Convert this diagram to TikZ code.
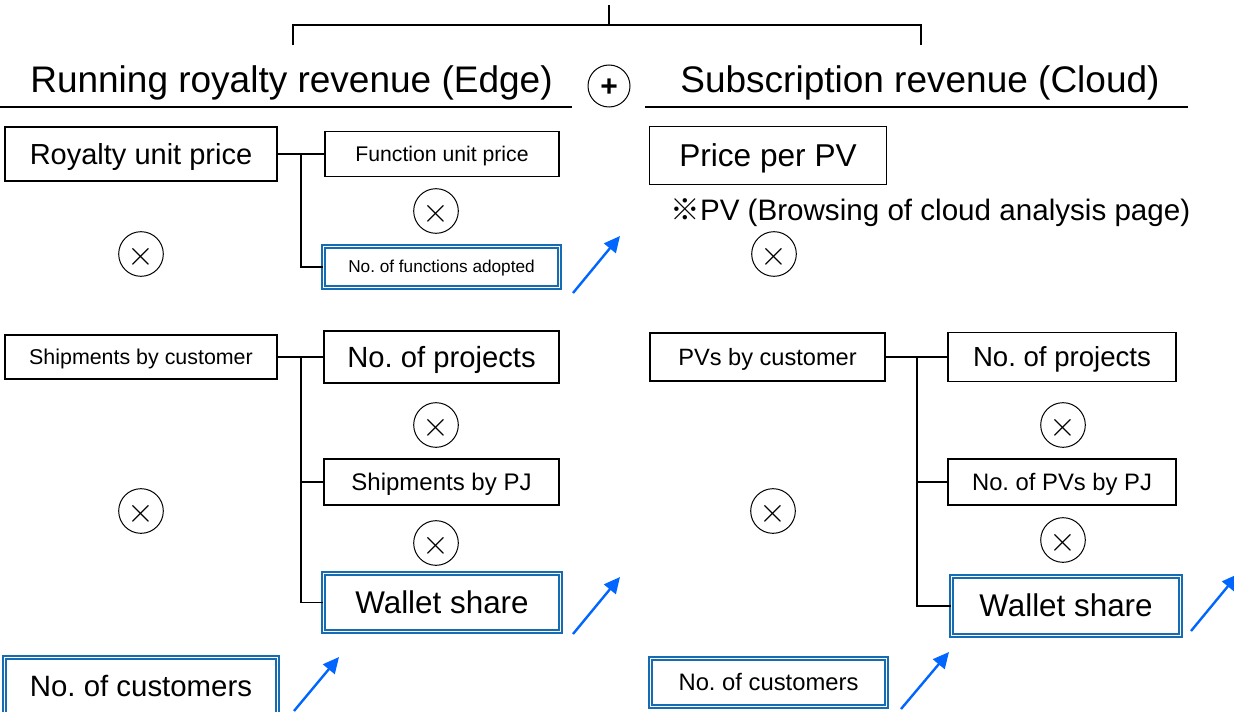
\documentclass[tikz,border=0pt]{standalone}
\usepackage{fontspec}
\setmainfont{Liberation Sans}
\newfontfamily\cjk{Noto Sans CJK JP}
\usetikzlibrary{arrows.meta}
\definecolor{framebl}{RGB}{22,108,178}
\definecolor{arrowbl}{RGB}{0,102,255}
\newcommand{\fsz}[1]{\fontsize{#1}{#1}\selectfont}
\newcommand{\ppstrut}{\rule[-0.212em]{0pt}{1.117em}}
\frenchspacing
\begin{document}
\begin{tikzpicture}[x=0.5pt,y=-0.5pt,
        every node/.append style={execute at begin node=\ppstrut},
        box/.style={draw, line width=0.7pt, inner sep=0pt},
        dblbox/.style={draw=framebl, double=white, line width=0.8pt, double distance=0.9pt, inner sep=0pt},
        opcirc/.style={draw, circle, line width=0.5pt, minimum size=21pt, inner sep=0pt, font=\fsz{16},
            execute at begin node={}},
        growarrow/.style={draw=arrowbl, line width=1.2pt, -{Triangle[length=8pt,width=7.5pt]}}]
        \useasboundingbox (0,0) rectangle (1234,711);
        \draw[line width=0.7pt] (609,5) -- (609,25);
        \draw[line width=0.7pt] (293,45) -- (293,25) -- (921,25) -- (921,45);
        \node[font=\fsz{18.5}] (edge) at (291.5,80) {Running royalty revenue (Edge)};
        \node[font=\fsz{18.5}] (cloud) at (920,80) {Subscription revenue (Cloud)};
        \draw[line width=0.8pt] (0,107) -- (572,107);
        \draw[line width=0.8pt] (645,107) -- (1188,107);
        \node[opcirc, font=\fsz{15}\bfseries] (plus) at (609,86) {+};
        % edge side
        \node[box, minimum width=136pt, minimum height=27pt, font=\fsz{14.5}] (roy) at (141,154) {Royalty unit price};
        \node[box, minimum width=117pt, minimum height=22.5pt, font=\fsz{10.6}] (fup) at (442,154) {Function unit price};
        \node[dblbox, minimum width=118pt, minimum height=20.5pt, font=\fsz{8.6}] (nfa) at (441.5,267) {No. of functions adopted};
        \node[box, minimum width=136pt, minimum height=22pt, font=\fsz{10.7}] (ship) at (141,357) {Shipments by customer};
        \node[box, minimum width=117.5pt, minimum height=26pt, font=\fsz{14.6}] (nproj) at (441.5,357) {No. of projects};
        \node[box, minimum width=117.5pt, minimum height=23pt, font=\fsz{12}] (spj) at (441.5,482) {Shipments by PJ};
        \node[dblbox, minimum width=118.5pt, minimum height=29pt, font=\fsz{15.7}] (wal) at (442,602.5) {Wallet share};
        \node[dblbox, minimum width=136.5pt, minimum height=28.5pt, font=\fsz{14.7}] (ncust) at (141,686) {No. of customers};
        \node[opcirc] (m1) at (436,211) {$\times$};
        \node[opcirc] (m2) at (141,254) {$\times$};
        \node[opcirc] (m3) at (436,425) {$\times$};
        \node[opcirc] (m4) at (436,543) {$\times$};
        \node[opcirc] (m5) at (141,511) {$\times$};
        \coordinate (br1) at (301,154);
        \coordinate (br2) at (301,357);
        \draw[line width=0.7pt] (roy.east) -- (fup.west);
        \draw[line width=0.7pt] (br1) |- (nfa.west);
        \draw[line width=0.7pt] (ship.east) -- (nproj.west);
        \draw[line width=0.7pt] (br2) |- (spj.west);
        \draw[line width=0.7pt] (br2) |- (wal.west);
        % cloud side
        \node[box, minimum width=118.5pt, minimum height=29pt, font=\fsz{15.8}] (ppv) at (768,155.5) {Price per PV};
        \node[anchor=west, inner sep=0pt, font=\fsz{14.8}] (note) at (670,210) {{\cjk ※}PV (Browsing of cloud analysis page)};
        \node[box, minimum width=117.5pt, minimum height=24pt, font=\fsz{11.8}] (pvc) at (767.5,357) {PVs by customer};
        \node[box, minimum width=114pt, minimum height=24.5pt, font=\fsz{13.8}] (nproj2) at (1062,357) {No. of projects};
        \node[box, minimum width=114pt, minimum height=23pt, font=\fsz{11.9}] (npv) at (1062,482) {No. of PVs by PJ};
        \node[dblbox, minimum width=114.5pt, minimum height=29.5pt, font=\fsz{15.7}] (wal2) at (1066,606) {Wallet share};
        \node[dblbox, minimum width=118pt, minimum height=24pt, font=\fsz{11.9}] (ncust2) at (768.5,682.5) {No. of customers};
        \node[opcirc] (m6) at (774,254) {$\times$};
        \node[opcirc] (m7) at (1063,425) {$\times$};
        \node[opcirc] (m8) at (1063,540) {$\times$};
        \node[opcirc] (m9) at (773,511) {$\times$};
        \coordinate (br3) at (917,357);
        \draw[line width=0.7pt] (pvc.east) -- (nproj2.west);
        \draw[line width=0.7pt] (br3) |- (npv.west);
        \draw[line width=0.7pt] (br3) |- (wal2.west);
        % growth arrows
        \coordinate (a1s) at (573,293);
        \coordinate (a1e) at (620,236);
        \coordinate (a2s) at (573,634);
        \coordinate (a2e) at (620,577);
        \coordinate (a3s) at (294,711);
        \coordinate (a3e) at (339,657);
        \coordinate (a4s) at (1191,631);
        \coordinate (a4e) at (1238,574);
        \coordinate (a5s) at (901,709);
        \coordinate (a5e) at (949,652);
        \draw[growarrow] (a1s) -- (a1e);
        \draw[growarrow] (a2s) -- (a2e);
        \draw[growarrow] (a3s) -- (a3e);
        \draw[growarrow] (a4s) -- (a4e);
        \draw[growarrow] (a5s) -- (a5e);
    \end{tikzpicture}
\end{document}
